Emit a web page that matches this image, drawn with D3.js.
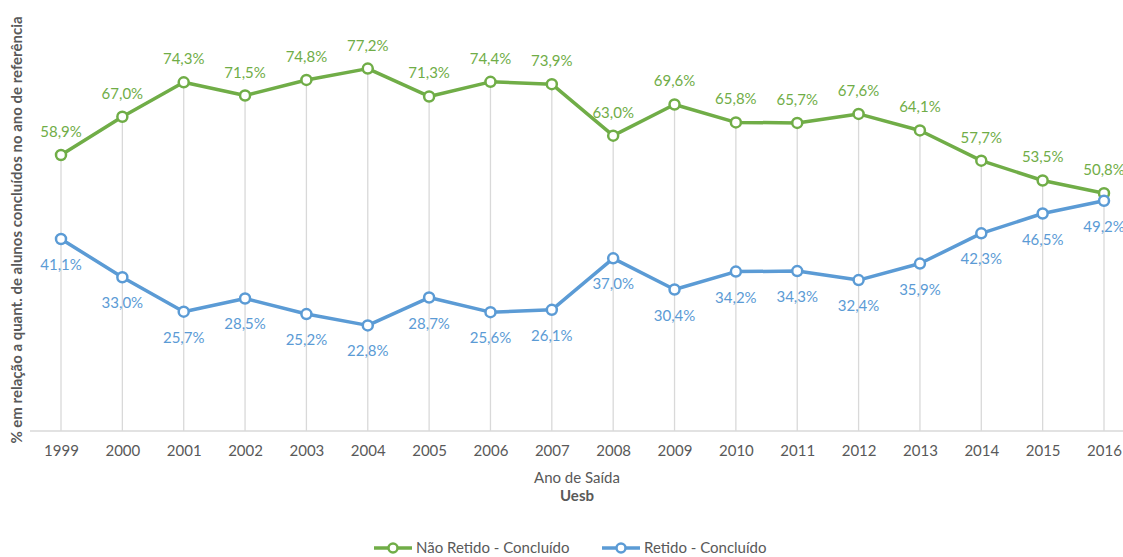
<!DOCTYPE html>
<html>
<head>
<meta charset="utf-8">
<script src="https://cdn.jsdelivr.net/npm/d3@7"></script>
<style>
  body { margin: 0; background: #fff; }
  text { font-family: Lato, "Open Sans", sans-serif; }
</style>
</head>
<body>
<script>
// data
var years = ["1999","2000","2001","2002","2003","2004","2005","2006","2007","2008","2009","2010","2011","2012","2013","2014","2015","2016"];
var naoRetido = [58.9, 67.0, 74.3, 71.5, 74.8, 77.2, 71.3, 74.4, 73.9, 63.0, 69.6, 65.8, 65.7, 67.6, 64.1, 57.7, 53.5, 50.8];
var retido = [41.1, 33.0, 25.7, 28.5, 25.2, 22.8, 28.7, 25.6, 26.1, 37.0, 30.4, 34.2, 34.3, 32.4, 35.9, 42.3, 46.5, 49.2];
var seriesNames = ["Não Retido - Concluído", "Retido - Concluído"];
var colors = ["#70ad47", "#5b9bd5"];

var width = 1123, height = 557;

var svg = d3.select("body").append("svg")
    .attr("width", width)
    .attr("height", height);

// scales
var x = d3.scalePoint()
    .domain(years)
    .range([61, 1104]);

var y = d3.scaleLinear()
    .domain([0, 80])
    .range([433, 55.4]);

var axisY = 431;

var fmt = function(v) { return d3.format(".1f")(v).replace(".", ",") + "%"; };

// drop lines from the higher point down to the axis
svg.append("g").selectAll("line")
    .data(years)
    .enter().append("line")
    .attr("x1", function(d) { return x(d); })
    .attr("x2", function(d) { return x(d); })
    .attr("y1", function(d, i) { return y(Math.max(naoRetido[i], retido[i])); })
    .attr("y2", axisY)
    .style("stroke", "#d9d9d9")
    .style("stroke-width", 1.3);

// x axis
var xAxis = svg.append("g")
    .attr("transform", "translate(0," + axisY + ")")
    .call(d3.axisBottom(x).tickSize(0).tickPadding(14));
xAxis.select(".domain")
    .attr("d", "M30,0H1123")
    .style("stroke", "#d9d9d9")
    .style("stroke-width", 1.3);
xAxis.selectAll("text")
    .style("font-size", "15px")
    .style("fill", "#595959")
    .style("font-family", "Lato, sans-serif");

// axis titles
svg.append("text")
    .attr("x", 577).attr("y", 483)
    .attr("text-anchor", "middle")
    .style("font-size", "15px")
    .style("fill", "#595959")
    .text("Ano de Saída");

svg.append("text")
    .attr("x", 577).attr("y", 501)
    .attr("text-anchor", "middle")
    .style("font-size", "15px")
    .style("font-weight", "bold")
    .style("fill", "#595959")
    .text("Uesb");

svg.append("text")
    .attr("transform", "translate(22,230) rotate(-90)")
    .attr("text-anchor", "middle")
    .style("font-size", "15px")
    .style("font-weight", "bold")
    .style("fill", "#595959")
    .text("% em relação a quant. de alunos concluídos no ano de referência");

// series
var line = d3.line()
    .x(function(d, i) { return x(years[i]); })
    .y(function(d) { return y(d); });

var all = [naoRetido, retido];

all.forEach(function(vals, s) {
    var g = svg.append("g");
    g.append("path")
        .datum(vals)
        .attr("d", line)
        .style("fill", "none")
        .style("stroke", colors[s])
        .style("stroke-width", 3.5)
        .style("stroke-linejoin", "round");

    g.selectAll("circle")
        .data(vals)
        .enter().append("circle")
        .attr("cx", function(d, i) { return x(years[i]); })
        .attr("cy", function(d) { return y(d); })
        .attr("r", 5)
        .style("fill", "#fff")
        .style("stroke", colors[s])
        .style("stroke-width", 2.5);

    g.selectAll("text")
        .data(vals)
        .enter().append("text")
        .attr("x", function(d, i) { return x(years[i]); })
        .attr("y", function(d) { return y(d) + (s == 0 ? -18 : 31); })
        .attr("text-anchor", "middle")
        .style("font-size", "15px")
        .style("fill", colors[s])
        .text(fmt);
});

// legend
var legendX = [374, 602];
seriesNames.forEach(function(name, s) {
    var lg = svg.append("g").attr("transform", "translate(" + legendX[s] + ",548)");
    lg.append("line")
        .attr("x1", 0).attr("x2", 38)
        .style("stroke", colors[s])
        .style("stroke-width", 3.5);
    lg.append("circle")
        .attr("cx", 19).attr("r", 4.5)
        .style("fill", "#fff")
        .style("stroke", colors[s])
        .style("stroke-width", 2.5);
    lg.append("text")
        .attr("x", 42).attr("y", 5)
        .style("font-size", "15px")
        .style("fill", "#595959")
        .text(name);
});
</script>
</body>
</html>
